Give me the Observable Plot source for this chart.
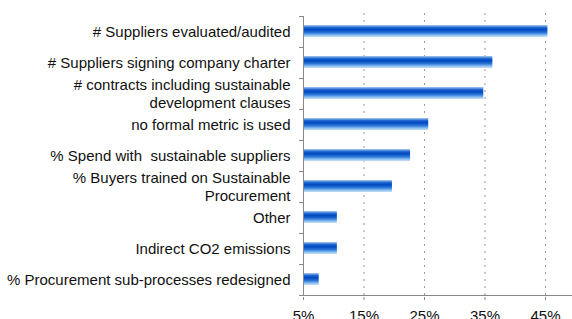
<!DOCTYPE html>
<html>
<head>
<meta charset="utf-8">
<script src="https://cdn.jsdelivr.net/npm/d3@7"></script>
<script src="https://cdn.jsdelivr.net/npm/@observablehq/plot@0.6"></script>
<style>
  html, body { margin: 0; padding: 0; background: #fff; }
  #chart { width: 572px; height: 319px; overflow: hidden; }
</style>
</head>
<body>
<div id="chart"></div>
<script>
const categories = [
  "# Suppliers evaluated/audited",
  "# Suppliers signing company charter",
  "# contracts including sustainable\ndevelopment clauses",
  "no formal metric is used",
  "% Spend with  sustainable suppliers",
  "% Buyers trained on Sustainable\nProcurement",
  "Other",
  "Indirect CO2 emissions",
  "% Procurement sub-processes redesigned"
];
const values = [45.4, 36.3, 34.8, 25.7, 22.7, 19.7, 10.6, 10.6, 7.6];
const xTicks = [5, 15, 25, 35, 45];
const baseline = 5;

const data = categories.map((c, i) => ({category: c, value: values[i]}));

const plot = Plot.plot({
  width: 572,
  height: 319,
  marginTop: 13,
  marginBottom: 22,
  marginLeft: 303,
  marginRight: 27,
  style: {fontFamily: "Liberation Sans, Arial, sans-serif", fontSize: "15px", color: "#111", background: "#fff"},
  x: {domain: [5, 45], ticks: xTicks, label: null},
  y: {domain: categories, paddingInner: 0.62, paddingOuter: 0.31, axis: null},
  marks: [
    Plot.ruleX(xTicks.filter(d => d !== 5), {stroke: "#999", strokeDasharray: "2,5", strokeWidth: 1}),
    Plot.barX(data, {y: "category", x1: baseline, x2: "value", fill: "url(#barGrad)"}),
    Plot.axisX({ticks: xTicks, tickFormat: d => d + "%", tickSize: 3, tickPadding: 10, stroke: "#888", fontSize: 15, fill: "#111", label: null}),
    Plot.text(data, {y: "category", x: baseline, dx: -13, text: "category", textAnchor: "end", lineHeight: 1.15, fontSize: 15, fill: "#111"})
  ]
});

const svg = d3.select(plot);
const defs = svg.insert("defs", ":first-child");
const grad = defs.append("linearGradient").attr("id", "barGrad").attr("x1", 0).attr("y1", 0).attr("x2", 0).attr("y2", 1);
[["0%", "#a8ccf2"], ["22%", "#1a62cf"], ["40%", "#0048c0"], ["65%", "#2e7ad8"], ["85%", "#8ec0f0"], ["100%", "#c4e0f8"]]
  .forEach(([o, c]) => grad.append("stop").attr("offset", o).attr("stop-color", c));

const xs = plot.scale("x"), ys = plot.scale("y");
const x0 = xs.apply(5);
const bandStep = ys.step;
const bandTop = ys.apply(categories[0]) - (bandStep - ys.bandwidth) / 2;
const g = svg.append("g").attr("stroke", "#888").attr("fill", "none");
for (let i = 0; i <= categories.length; i++) {
  const yy = Math.round(bandTop + i * bandStep) + 0.5;
  g.append("line").attr("x1", x0 - 4).attr("x2", x0).attr("y1", yy).attr("y2", yy);
}
const bottomY = Math.round(bandTop + categories.length * bandStep) + 0.5;
g.append("line").attr("x1", x0).attr("x2", 572).attr("y1", bottomY).attr("y2", bottomY);
g.append("line").attr("x1", x0 + 0.5).attr("x2", x0 + 0.5).attr("y1", Math.round(bandTop)).attr("y2", bottomY);

document.getElementById("chart").appendChild(plot);
</script>
</body>
</html>
